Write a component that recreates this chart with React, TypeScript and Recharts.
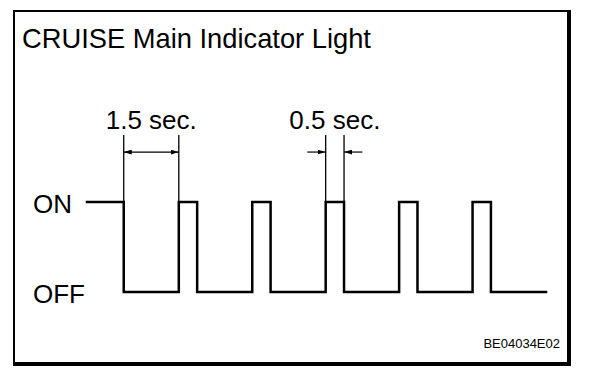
import { LineChart, Line, XAxis, YAxis, ReferenceLine } from 'recharts'

// signal timeline (seconds) and lamp state at each change
const times = [-1, 0, 1.5, 2, 3.5, 4, 5.5, 6, 7.5, 8, 9.5, 10, 11.5]
const states = [1, 0, 1, 0, 1, 0, 1, 0, 1, 0, 1, 0, 0]
const levelLabels = ['OFF', 'ON']

// dimension marks
const dimLabels = ['1.5 sec.', '0.5 sec.']
const dimFrom = [0, 5.5]
const dimTo = [1.5, 6]
const dimOutside = [false, true]

const EXT_TOP = 1.745
const DIM_Y = 1.555
const OUT_LEN = 0.5
const FONT = '"Liberation Sans", Arial, Helvetica, sans-serif'

const data = times.map((t, i) => ({ t, state: states[i] }))

function LevelTick(props: any) {
  const { x, y, payload } = props
  return (
    <text x={x - 54} y={y + 2} dy="0.36em" textAnchor="start" fontSize={26} fontFamily={FONT} fill="#000">
      {levelLabels[payload.value]}
    </text>
  )
}

export default function App() {
  return (
    <div style={{ position: 'relative', width: 608, height: 376, background: '#fff', fontFamily: FONT }}>
      <style>{'body{margin:0}'}</style>
      <div
        style={{
          position: 'absolute', left: 13, top: 10, width: 558, height: 356,
          boxSizing: 'border-box', borderLeft: '2px solid #000', borderTop: '2px solid #000',
          borderRight: '4px solid #000', borderBottom: '4px solid #000',
        }}
      />
      <div style={{ position: 'absolute', left: 22, top: 25, fontSize: 27.3, lineHeight: 1, whiteSpace: 'nowrap' }}>
        CRUISE Main Indicator Light
      </div>
      <div style={{ position: 'absolute', right: 48, top: 337, fontSize: 13, lineHeight: 1 }}>
        BE04034E02
      </div>
      <div style={{ position: 'absolute', left: 0, top: 0 }}>
        <LineChart width={608} height={376} data={data} margin={{ top: 202, right: 62, bottom: 84, left: 27 }}>
          <defs>
            <marker
              id="arrowHead" viewBox="0 0 10 6" refX="10" refY="3"
              markerWidth="8" markerHeight="5" markerUnits="userSpaceOnUse" orient="auto-start-reverse"
            >
              <path d="M0,0 L10,3 L0,6 z" fill="#000" />
            </marker>
          </defs>
          <XAxis dataKey="t" type="number" domain={[-1, 11.5]} hide />
          <YAxis
            type="number" domain={[0, 1]} ticks={[0, 1]} width={60}
            axisLine={false} tickLine={false} tickSize={0} tickMargin={0}
            tick={LevelTick}
          />
          {dimLabels.map((label, i) => {
            const a = dimFrom[i]
            const b = dimTo[i]
            const labelProps = { value: label, position: 'top' as const, offset: 23, fontSize: 26, fill: '#000', fontFamily: FONT }
            return [
              <ReferenceLine key={`ea${i}`} ifOverflow="visible" stroke="#000" strokeWidth={1.3}
                segment={[{ x: a, y: 1 }, { x: a, y: EXT_TOP }]} />,
              <ReferenceLine key={`eb${i}`} ifOverflow="visible" stroke="#000" strokeWidth={1.3}
                segment={[{ x: b, y: 1 }, { x: b, y: EXT_TOP }]} />,
              dimOutside[i] ? (
                [
                  <ReferenceLine key={`la${i}`} ifOverflow="visible" stroke="#000" strokeWidth={1.2}
                    markerEnd="url(#arrowHead)"
                    segment={[{ x: a - OUT_LEN, y: DIM_Y }, { x: a, y: DIM_Y }]} />,
                  <ReferenceLine key={`lb${i}`} ifOverflow="visible" stroke="#000" strokeWidth={1.2}
                    markerEnd="url(#arrowHead)"
                    segment={[{ x: b + OUT_LEN, y: DIM_Y }, { x: b, y: DIM_Y }]} />,
                  <ReferenceLine key={`lt${i}`} ifOverflow="visible" stroke="none"
                    segment={[{ x: a, y: DIM_Y }, { x: b, y: DIM_Y }]}
                    label={labelProps} />,
                ]
              ) : (
                <ReferenceLine key={`d${i}`} ifOverflow="visible" stroke="#000" strokeWidth={1.2}
                  markerStart="url(#arrowHead)" markerEnd="url(#arrowHead)"
                  segment={[{ x: a, y: DIM_Y }, { x: b, y: DIM_Y }]}
                  label={labelProps} />
              ),
            ]
          })}
          <Line
            dataKey="state" type="stepAfter" stroke="#000" strokeWidth={2.5}
            strokeLinejoin="miter" strokeLinecap="square"
            dot={false} activeDot={false} isAnimationActive={false}
          />
        </LineChart>
      </div>
    </div>
  )
}
